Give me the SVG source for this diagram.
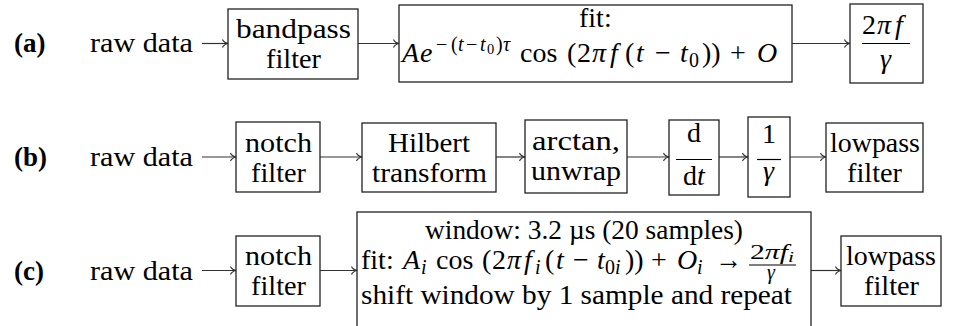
<svg xmlns="http://www.w3.org/2000/svg" width="958" height="326" viewBox="0 0 958 326">
<style>
text,tspan{font-family:'Liberation Serif','Times New Roman',serif !important}
.t{font-size:28px;fill:#000}
.i{font-style:italic}
.b{font-weight:bold;font-size:27px}
.s{font-size:20px}
.ss{font-size:14.5px}
.box{fill:none;stroke:#222;stroke-width:1.3}
.bar{stroke:#000;stroke-width:1.2}
.arr{fill:none;stroke:#333;stroke-width:1.2;marker-end:url(#ah)}
</style>
<defs>
<marker id="ah" viewBox="-7 -5 8 10" refX="0" refY="0" markerWidth="8" markerHeight="10" orient="auto" markerUnits="userSpaceOnUse">
<path d="M-5.5,-4 C-4.5,-1.5 -2,-0.5 0,0 C-2,0.5 -4.5,1.5 -5.5,4" fill="none" stroke="#333" stroke-width="1.1"/>
</marker>
</defs>
<g id="labels">
<text class="t b" x="14" y="52">(a)</text>
<text class="t b" x="14" y="166">(b)</text>
<text class="t b" x="14" y="280">(c)</text>
<text class="t" x="90" y="52" textLength="103" lengthAdjust="spacingAndGlyphs">raw data</text>
<text class="t" x="90" y="166" textLength="103" lengthAdjust="spacingAndGlyphs">raw data</text>
<text class="t" x="90" y="280" textLength="103" lengthAdjust="spacingAndGlyphs">raw data</text>
</g>

<g id="connectors">
<line class="arr" x1="202" y1="43.5" x2="228" y2="43.5"/>
<line class="arr" x1="358" y1="43.5" x2="399" y2="43.5"/>
<line class="arr" x1="792" y1="43.5" x2="850" y2="43.5"/>
<line class="arr" x1="202" y1="157" x2="236" y2="157"/>
<line class="arr" x1="320" y1="157" x2="362" y2="157"/>
<line class="arr" x1="496" y1="157" x2="525" y2="157"/>
<line class="arr" x1="627" y1="157" x2="669" y2="157"/>
<line class="arr" x1="719" y1="157" x2="748" y2="157"/>
<line class="arr" x1="790" y1="157" x2="826" y2="157"/>
<line class="arr" x1="202" y1="270.5" x2="236" y2="270.5"/>
<line class="arr" x1="320" y1="270.5" x2="357" y2="270.5"/>
<line class="arr" x1="811" y1="270.5" x2="841" y2="270.5"/>
</g>

<g id="a-bandpass">
<rect class="box" x="228" y="9" width="130" height="70"/>
<text class="t" x="236" y="38" textLength="115" lengthAdjust="spacingAndGlyphs">bandpass</text>
<text class="t" x="266" y="68" textLength="55" lengthAdjust="spacingAndGlyphs">filter</text>
</g>

<g id="a-fit">
<rect class="box" x="399" y="5" width="393" height="77"/>
<text class="t" x="579" y="27">fit:</text>
<text class="t"><tspan class="i" x="402" y="62">A</tspan><tspan class="i" x="420" y="62">e</tspan><tspan class="s" x="436" y="51">−</tspan><tspan class="s" x="451" y="51">(</tspan><tspan class="s i" x="458" y="51">t</tspan><tspan class="s" x="466" y="51">−</tspan><tspan class="s i" x="480" y="51">t</tspan><tspan class="ss" x="487" y="54">0</tspan><tspan class="s" x="496" y="51">)</tspan><tspan class="s i" x="503" y="51">τ</tspan><tspan x="520" y="62">cos</tspan><tspan x="567" y="62">(</tspan><tspan x="577" y="62">2</tspan><tspan class="i" x="592" y="62">π</tspan><tspan class="i" x="610" y="62">f</tspan><tspan x="625" y="62">(</tspan><tspan class="i" x="636" y="62">t</tspan><tspan x="655" y="62">−</tspan><tspan class="i" x="680" y="62">t</tspan><tspan class="s" x="689" y="67">0</tspan><tspan x="702" y="62">))</tspan><tspan x="730" y="62">+</tspan><tspan class="i" x="757" y="62">O</tspan></text>
</g>

<g id="a-ratio">
<rect class="box" x="850" y="4" width="73" height="79"/>
<text class="t"><tspan x="862" y="34">2</tspan><tspan class="i" x="877" y="34">π</tspan><tspan class="i" x="895" y="34">f</tspan></text>
<line class="bar" x1="862" y1="43.5" x2="910" y2="43.5"/>
<text class="t i" x="880" y="68">γ</text>
</g>

<g id="b-notch">
<rect class="box" x="236" y="122" width="84" height="70"/>
<text class="t" x="245" y="152" textLength="67" lengthAdjust="spacingAndGlyphs">notch</text>
<text class="t" x="251" y="182" textLength="55" lengthAdjust="spacingAndGlyphs">filter</text>
</g>

<g id="b-hilbert">
<rect class="box" x="362" y="123" width="134" height="69"/>
<text class="t" x="388" y="152" textLength="82" lengthAdjust="spacingAndGlyphs">Hilbert</text>
<text class="t" x="372" y="182" textLength="115" lengthAdjust="spacingAndGlyphs">transform</text>
</g>

<g id="b-arctan">
<rect class="box" x="525" y="120" width="102" height="73"/>
<text class="t" x="532" y="150" textLength="88" lengthAdjust="spacingAndGlyphs">arctan,</text>
<text class="t" x="531" y="180" textLength="90" lengthAdjust="spacingAndGlyphs">unwrap</text>
</g>

<g id="b-ddt">
<rect class="box" x="669" y="120" width="50" height="75"/>
<text class="t" x="687" y="142">d</text>
<line class="bar" x1="676" y1="159.5" x2="712" y2="159.5"/>
<text class="t" x="683" y="185">d<tspan class="i">t</tspan></text>
</g>

<g id="b-gamma">
<rect class="box" x="748" y="117" width="42" height="80"/>
<text class="t" x="762" y="143">1</text>
<line class="bar" x1="757" y1="159.5" x2="781" y2="159.5"/>
<text class="t i" x="763" y="180">γ</text>
</g>

<g id="b-lowpass">
<rect class="box" x="826" y="123" width="97" height="69"/>
<text class="t" x="830" y="152" textLength="90" lengthAdjust="spacingAndGlyphs">lowpass</text>
<text class="t" x="847" y="182" textLength="55" lengthAdjust="spacingAndGlyphs">filter</text>
</g>

<g id="c-notch">
<rect class="box" x="236" y="236" width="84" height="70"/>
<text class="t" x="245" y="265" textLength="67" lengthAdjust="spacingAndGlyphs">notch</text>
<text class="t" x="251" y="295" textLength="55" lengthAdjust="spacingAndGlyphs">filter</text>
</g>

<g id="c-window">
<rect class="box" x="357" y="212" width="454" height="130"/>
<text class="t" x="425" y="239" textLength="318" lengthAdjust="spacingAndGlyphs">window: 3.2 µs (20 samples)</text>
<text class="t"><tspan x="361" y="269">fit:</tspan><tspan class="i" x="403" y="269">A</tspan><tspan class="s i" x="421" y="274">i</tspan><tspan x="436" y="269">cos</tspan><tspan x="482" y="269">(</tspan><tspan x="492" y="269">2</tspan><tspan class="i" x="507" y="269">π</tspan><tspan class="i" x="524" y="269">f</tspan><tspan class="s i" x="535" y="274">i</tspan><tspan x="545" y="269">(</tspan><tspan class="i" x="556" y="269">t</tspan><tspan x="573" y="269">−</tspan><tspan class="i" x="597" y="269">t</tspan><tspan class="s" x="605" y="274">0</tspan><tspan class="s i" x="615" y="274">i</tspan><tspan x="625" y="269">))</tspan><tspan x="651" y="269">+</tspan><tspan class="i" x="677" y="269">O</tspan><tspan class="s i" x="697" y="274">i</tspan><tspan x="715" y="269" textLength="27" lengthAdjust="spacingAndGlyphs">→</tspan></text>
<text class="t s" x="750" y="259" textLength="44" lengthAdjust="spacingAndGlyphs">2<tspan class="i">πf</tspan><tspan class="ss i" dy="3">i</tspan></text>
<line class="bar" x1="749" y1="265" x2="796" y2="265"/>
<text class="t s i" x="767" y="279">γ</text>
<text class="t" x="361" y="304" textLength="431" lengthAdjust="spacingAndGlyphs">shift window by 1 sample and repeat</text>
</g>

<g id="c-lowpass">
<rect class="box" x="841" y="236" width="100" height="70"/>
<text class="t" x="846" y="265" textLength="90" lengthAdjust="spacingAndGlyphs">lowpass</text>
<text class="t" x="864" y="295" textLength="55" lengthAdjust="spacingAndGlyphs">filter</text>
</g>
</svg>
